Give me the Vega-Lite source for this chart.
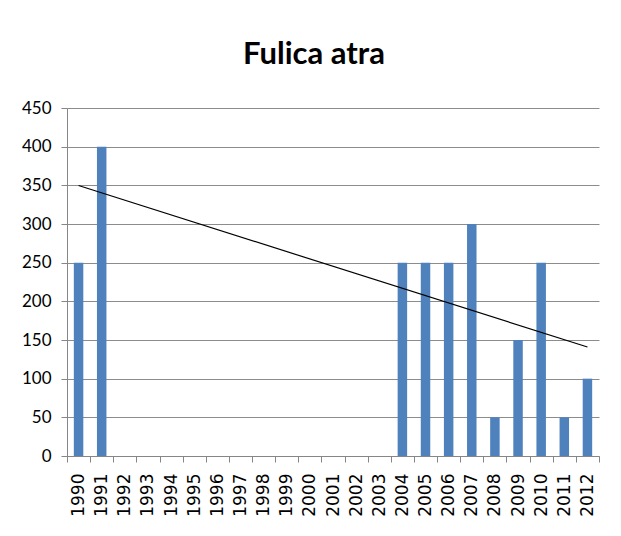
{
  "$schema": "https://vega.github.io/schema/vega-lite/v6.json",
  "width": 532,
  "height": 348,
  "autosize": "none",
  "padding": {"left": 67, "top": 108, "right": 22, "bottom": 80},
  "background": "white",
  "config": {"view": {"stroke": null}},
  "title": {
    "text": "Fulica atra",
    "font": "Lato",
    "fontWeight": "bold",
    "fontSize": 31,
    "color": "#000000",
    "anchor": "middle",
    "frame": "group",
    "dx": -19,
    "offset": 28
  },
  "data": {
    "values": [
      {"year": 1990, "count": 250},
      {"year": 1991, "count": 400},
      {"year": 2004, "count": 250},
      {"year": 2005, "count": 250},
      {"year": 2006, "count": 250},
      {"year": 2007, "count": 300},
      {"year": 2008, "count": 50},
      {"year": 2009, "count": 150},
      {"year": 2010, "count": 250},
      {"year": 2011, "count": 50},
      {"year": 2012, "count": 100}
    ]
  },
  "encoding": {
    "x": {
      "field": "year",
      "type": "ordinal",
      "scale": {
        "domain": [1990, 1991, 1992, 1993, 1994, 1995, 1996, 1997, 1998, 1999, 2000, 2001, 2002, 2003, 2004, 2005, 2006, 2007, 2008, 2009, 2010, 2011, 2012],
        "paddingInner": 0,
        "paddingOuter": 0
      },
      "axis": {
        "title": null,
        "labelAngle": -90,
        "labelFont": "DejaVu Sans",
        "labelFontSize": 17,
        "labelColor": "#000000",
        "labelPadding": 11,
        "tickBand": "extent",
        "tickSize": 6,
        "tickColor": "#868686",
        "domainColor": "#868686",
        "grid": false
      }
    },
    "y": {
      "field": "count",
      "type": "quantitative",
      "scale": {"domain": [0, 450]},
      "axis": {
        "title": null,
        "values": [0, 50, 100, 150, 200, 250, 300, 350, 400, 450],
        "labelFont": "Lato",
        "labelFontSize": 17,
        "labelColor": "#000000",
        "labelPadding": 10,
        "tickSize": 6,
        "tickColor": "#868686",
        "domainColor": "#868686",
        "gridColor": "#8c8c8c",
        "gridWidth": 1
      }
    }
  },
  "layer": [
    {
      "mark": {"type": "bar", "color": "#4F81BD", "width": {"band": 0.41}}
    },
    {
      "transform": [{"regression": "count", "on": "year"}],
      "mark": {"type": "line", "color": "#000000", "strokeWidth": 1.2}
    }
  ]
}
